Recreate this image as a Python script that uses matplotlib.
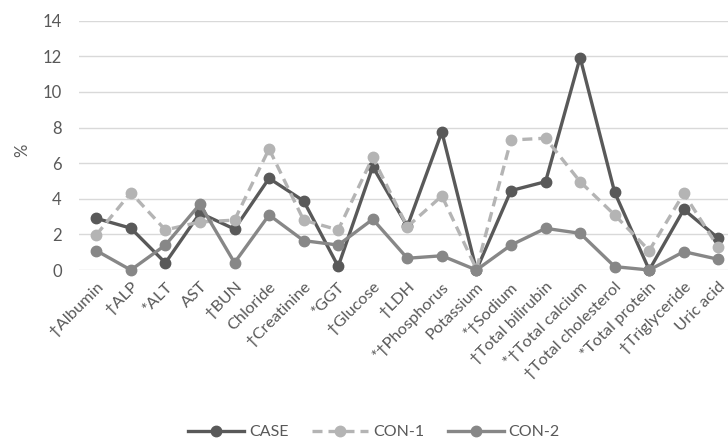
import numpy as np
import matplotlib.pyplot as plt

plt.rcParams['font.family'] = ['Lato', 'DejaVu Sans']

tests = ["†Albumin", "†ALP", "*ALT", "AST", "†BUN", "Chloride", "†Creatinine",
         "*GGT", "†Glucose", "†LDH", "*†Phosphorus", "Potassium", "*†Sodium",
         "†Total bilirubin", "*†Total calcium", "†Total cholesterol",
         "*Total protein", "†Triglyceride", "Uric acid"]

case = [2.9, 2.35, 0.4, 3.2, 2.3, 5.15, 3.88, 0.2, 5.8, 2.45, 7.75, 0.0, 4.46,
        4.96, 11.93, 4.36, 0.0, 3.4, 1.78]
con1 = [1.97, 4.34, 2.25, 2.7, 2.8, 6.8, 2.8, 2.25, 6.33, 2.43, 4.16, 0.05, 7.3,
        7.4, 4.96, 3.09, 1.09, 4.3, 1.27]
con2 = [1.09, 0.0, 1.4, 3.7, 0.41, 3.09, 1.65, 1.4, 2.85, 0.66, 0.8, 0.0, 1.4,
        2.34, 2.06, 0.19, 0.0, 1.03, 0.6]

x = np.arange(len(tests))
txt = '#595959'

fig = plt.figure(figsize=(7.28, 4.43), dpi=100)
ax = fig.add_axes([0.1085, 0.3905, 0.902, 0.5628])

ax.plot(x, case, color='#595959', lw=2.4, marker='o', ms=7.5, label='CASE',
        clip_on=False, zorder=3)
ax.plot(x, con1, color='#b4b4b4', lw=2.4, ls=(0, (3, 1.8)), marker='o', ms=7.5,
        label='CON-1', clip_on=False, zorder=4)
ax.plot(x, con2, color='#878787', lw=2.4, marker='o', ms=7.5, label='CON-2',
        clip_on=False, zorder=5)

ax.set_xlim(-0.5, len(tests) - 0.5)
ax.set_ylim(0, 14)
ax.set_yticks(range(0, 15, 2))
ax.set_xticks(x)
ax.set_xticklabels(tests, rotation=45, ha='right', va='top',
                   rotation_mode='anchor')
ax.tick_params(length=0, colors=txt)
ax.tick_params(axis='y', pad=12.5, labelsize=12)
ax.tick_params(axis='x', pad=7, labelsize=11.8)
ax.grid(axis='y', color='#d9d9d9', lw=1)
ax.set_axisbelow(True)
for s in ax.spines.values():
    s.set_visible(False)

fig.text(22 / 728, 1 - 150 / 443, '%', rotation=90, ha='center', va='center',
         color=txt, fontsize=12)

fig.legend(loc='center', bbox_to_anchor=(374 / 728, 11 / 443), ncol=3,
           frameon=False, handlelength=3.5, numpoints=1, columnspacing=1.5,
           handletextpad=0.3, labelcolor=txt, prop={'size': 11.5},
           borderpad=0)

fig.savefig('out.png', dpi=100)
